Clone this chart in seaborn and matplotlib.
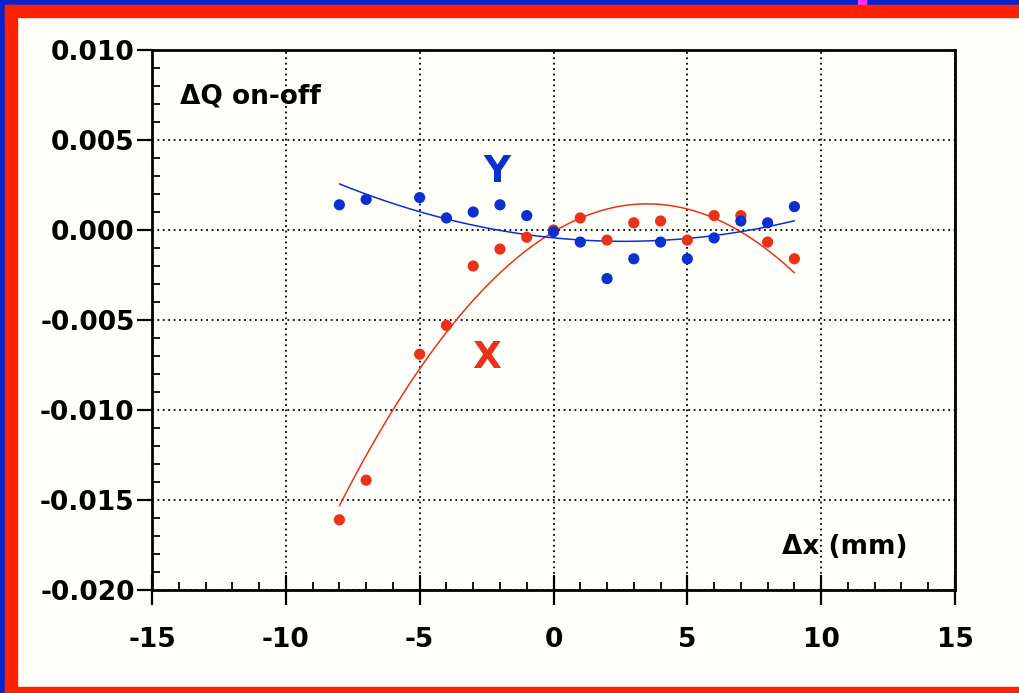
import numpy as np
import pandas as pd
import matplotlib
matplotlib.use('Agg')
import matplotlib.pyplot as plt
from matplotlib.ticker import MultipleLocator, FormatStrFormatter
from matplotlib.patches import Rectangle
import seaborn as sns

# Tune shift dQ (on - off) vs beam offset
dx = [-8, -7, -5, -4, -3, -2, -1, 0, 1, 2, 3, 4, 5, 6, 7, 8, 9]
dq_x = [-0.0161, -0.0139, -0.0069, -0.0053, -0.0020, -0.00106, -0.0004, 0.0,
        0.00067, -0.00056, 0.0004, 0.0005, -0.00056, 0.0008, 0.0008, -0.00067, -0.0016]
dq_y = [0.0014, 0.0017, 0.0018, 0.00067, 0.0010, 0.0014, 0.0008, -0.0001,
        -0.00067, -0.0027, -0.0016, -0.00067, -0.0016, -0.00044, 0.0005, 0.0004, 0.0013]

df = pd.DataFrame({'dx': dx, 'X': dq_x, 'Y': dq_y})

red = '#e8321a'
blue = '#0a30d0'
bg = '#fffffa'

sns.set_style('ticks')
plt.rcParams['font.family'] = ['DejaVu Sans']
plt.rcParams['axes.unicode_minus'] = False
plt.rcParams['text.color'] = 'black'
plt.rcParams['xtick.color'] = 'black'
plt.rcParams['ytick.color'] = 'black'

fig = plt.figure(figsize=(10.19, 6.93), dpi=100, facecolor=bg)
ax = fig.add_axes([152 / 1019, 103 / 693, 803 / 1019, 540 / 693])
ax.set_facecolor(bg)

# frame around the slide
W, H = 1019, 693
def strip(x0, y0, w, h, c):
    fig.patches.append(Rectangle((x0 / W, y0 / H), w / W, h / H, transform=fig.transFigure,
                                 color=c, zorder=0))
strip(0, H - 5, W, 5, '#0a22cc')
strip(858, H - 5, 8, 5, '#ff33ff')
strip(0, 0, 5, H, '#0a22cc')
strip(5, H - 17, W - 5, 12, '#ff2200')
strip(5, 0, 12, H - 5, '#ff2200')
strip(5, 0, W - 5, 6, '#ff2200')

# fits first, points on top
sns.regplot(data=df, x='dx', y='X', order=2, ci=None, scatter=False, ax=ax,
            line_kws={'color': red, 'lw': 1.1, 'zorder': 3})
sns.regplot(data=df, x='dx', y='Y', order=2, ci=None, scatter=False, ax=ax,
            line_kws={'color': blue, 'lw': 1.1, 'zorder': 3})
sns.scatterplot(data=df, x='dx', y='X', color=red, s=65, edgecolor='none', ax=ax, zorder=4)
sns.scatterplot(data=df, x='dx', y='Y', color=blue, s=65, edgecolor='none', ax=ax, zorder=5)

ax.set_xlim(-15, 15)
ax.set_ylim(-0.020, 0.010)
ax.set_xlabel('')
ax.set_ylabel('')
ax.xaxis.set_major_locator(MultipleLocator(5))
ax.xaxis.set_minor_locator(MultipleLocator(1))
ax.yaxis.set_major_locator(MultipleLocator(0.005))
ax.yaxis.set_minor_locator(MultipleLocator(0.001))
ax.yaxis.set_major_formatter(FormatStrFormatter('%.3f'))

ax.grid(True, which='major', color='black', linestyle=(0, (1, 2)), linewidth=1.3)
for s in ax.spines.values():
    s.set_visible(True)
    s.set_linewidth(2)
    s.set_color('black')

ax.tick_params(axis='x', which='major', direction='inout', length=21, width=1.6, pad=16,
               labelsize=19, labelcolor='black')
ax.tick_params(axis='x', which='minor', direction='in', length=6, width=1.3)
ax.tick_params(axis='y', which='major', direction='out', length=11, width=1.6, pad=1.5,
               labelsize=19, labelcolor='black')
ax.tick_params(axis='y', which='minor', direction='in', length=6, width=1.3)
for lab in ax.get_xticklabels() + ax.get_yticklabels():
    lab.set_fontweight('bold')

ax.text(-13.95, 0.0074, 'ΔQ on-off', fontsize=19, fontweight='bold', color='black',
        va='center', ha='left')
ax.text(8.53, -0.0176, 'Δx (mm)', fontsize=19, fontweight='bold', color='black',
        va='center', ha='left')
ax.text(-2.11, 0.0032, 'Y', fontsize=27, fontweight='bold', color=blue, ha='center', va='center')
ax.text(-2.49, -0.0071, 'X', fontsize=27, fontweight='bold', color=red, ha='center', va='center')

fig.savefig('out.png', dpi=100, facecolor=bg)
